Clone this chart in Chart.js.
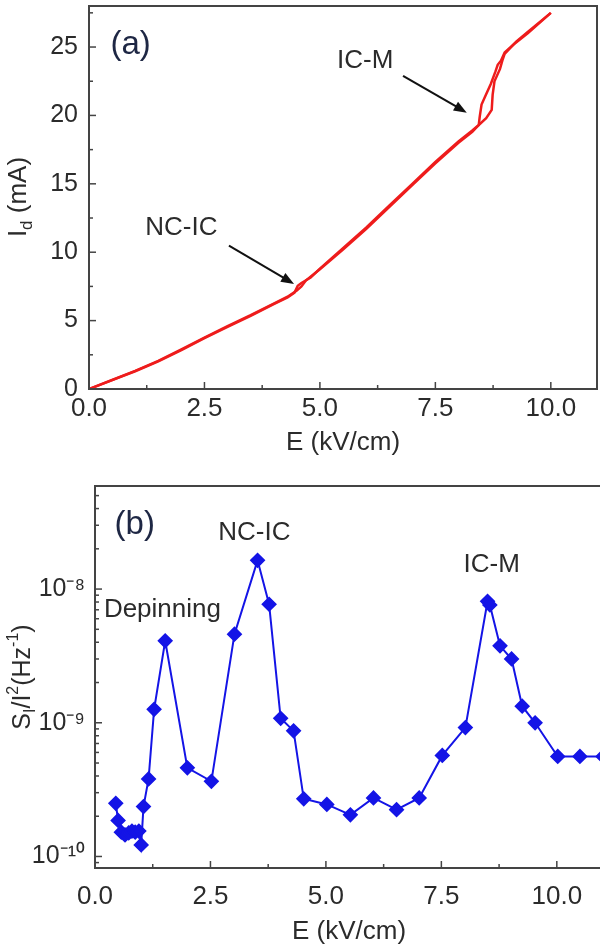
<!DOCTYPE html>
<html><head><meta charset="utf-8">
<script src="https://cdn.jsdelivr.net/npm/chart.js@4.4.1/dist/chart.umd.min.js"></script>
<style>
html,body{margin:0;padding:0;background:#fff;overflow:hidden;width:600px;height:946px;position:relative;}
#wa{position:absolute;left:0;top:0;width:600px;height:470px;}
#wb{position:absolute;left:0;top:470px;width:620px;height:480px;}
</style></head><body>
<div id="wa"><canvas id="ca" width="600" height="470"></canvas></div>
<div id="wb"><canvas id="cb" width="620" height="480"></canvas></div>
<script>
// ---------- Panel (a): I-V sweep ----------
const aFieldUp   = [0,0.5,1.0,1.5,2.0,2.5,3.0,3.5,4.0,4.3,4.45,4.52,4.6,4.8,5.0,5.5,6.0,6.5,7.0,7.5,8.0,8.3,8.44,8.6,8.72,8.74,8.78,8.9,8.95,9.0,9.25,9.5,10.0];
const aCurrentUp = [0,0.65,1.3,2.02,2.85,3.72,4.55,5.35,6.2,6.7,7.05,7.55,7.75,8.15,8.8,10.3,11.8,13.4,15.0,16.6,18.1,18.9,19.3,19.8,20.4,21.5,22.5,23.4,24.0,24.5,25.4,26.1,27.5];
const aFieldDown   = [10.0,9.5,9.2,9.0,8.92,8.85,8.8,8.7,8.58,8.5,8.46,8.44,8.3,8.0,7.5,7.0,6.5,6.0,5.5,5.0,4.7,4.6,4.5,4.3,4.0,3.5,3.0,2.5,2.0,1.5,1.0,0.5,0];
const aCurrentDown = [27.5,26.0,25.2,24.6,24.0,23.7,23.2,22.3,21.4,20.8,19.9,19.3,18.8,18.0,16.5,14.9,13.3,11.7,10.2,8.75,7.95,7.5,7.2,6.75,6.25,5.4,4.6,3.75,2.9,2.05,1.32,0.66,0];
const aXTicks = [0,2.5,5,7.5,10];
const aYTicks = [0,5,10,15,20,25];
const aXMinorStep = 1.25, aYMinorStep = 2.5;
// annotations in data coordinates
const aLabels = [
  {text:'(a)', x:0.9, y:25.15, big:true},
  {text:'NC-IC', x:2.0, y:11.8},
  {text:'IC-M', x:5.98, y:24.0}
];
const aArrows = [
  {from:[3.03,10.48], to:[4.44,7.68]},
  {from:[6.8,22.9], to:[8.18,20.2]}
];

// ---------- Panel (b): normalized noise ----------
const bField = [0.45,0.5,0.57,0.65,0.73,0.8,0.87,0.95,1.0,1.05,1.16,1.28,1.52,2.0,2.52,3.02,3.52,3.77,4.02,4.3,4.52,5.02,5.53,6.03,6.53,7.02,7.52,8.02,8.5,8.55,8.77,9.02,9.25,9.53,10.02,10.5,11.0];
const bNoise = [2.5e-10,1.86e-10,1.52e-10,1.45e-10,1.5e-10,1.55e-10,1.52e-10,1.55e-10,1.22e-10,2.36e-10,3.8e-10,1.26e-9,4.1e-9,4.6e-10,3.65e-10,4.6e-9,1.64e-8,7.7e-9,1.08e-9,8.7e-10,2.7e-10,2.45e-10,2.05e-10,2.74e-10,2.24e-10,2.74e-10,5.7e-10,9.2e-10,8.1e-9,7.6e-9,3.76e-9,3.0e-9,1.33e-9,1.0e-9,5.6e-10,5.6e-10,5.6e-10];
const bXTicks = [0,2.5,5,7.5,10];
const bYTicks = [1e-10,1e-9,1e-8];
const bYTickLabels = ['10\u207B\u00B9\u2070','10\u207B\u2079','10\u207B\u2078'];
const bLabels = [
  {text:'(b)', x:0.86, y:3.0e-8, big:true},
  {text:'NC-IC', x:3.45, y:2.63e-8},
  {text:'IC-M', x:8.59, y:1.51e-8},
  {text:'Depinning', x:1.46, y:7.0e-9}
];

const FONT = '"Liberation Sans", Arial, sans-serif';
const AXIS = '#444444';
const TXT = '#2b2b2b';

function pts(xs, ys){ return xs.map((x,i)=>({x:x, y:ys[i]})); }

function drawRich(ctx, cx, cy, parts){
  ctx.save();
  ctx.translate(cx, cy);
  ctx.rotate(-Math.PI/2);
  let w = 0;
  parts.forEach(p=>{ ctx.font = p.size+'px '+FONT; w += ctx.measureText(p.t).width; });
  let x = -w/2;
  ctx.fillStyle = TXT;
  ctx.textBaseline = 'middle';
  ctx.textAlign = 'left';
  parts.forEach(p=>{ ctx.font = p.size+'px '+FONT; ctx.fillText(p.t, x, p.dy||0); x += ctx.measureText(p.t).width; });
  ctx.restore();
}

function drawArrow(ctx, x1,y1,x2,y2){
  const ang = Math.atan2(y2-y1, x2-x1);
  const L = 13, W = 5;
  ctx.save();
  ctx.strokeStyle = '#111'; ctx.fillStyle = '#111'; ctx.lineWidth = 2;
  ctx.beginPath(); ctx.moveTo(x1,y1); ctx.lineTo(x2 - Math.cos(ang)*L*0.8, y2 - Math.sin(ang)*L*0.8); ctx.stroke();
  ctx.beginPath();
  ctx.moveTo(x2,y2);
  ctx.lineTo(x2 - Math.cos(ang)*L + Math.sin(ang)*W, y2 - Math.sin(ang)*L - Math.cos(ang)*W);
  ctx.lineTo(x2 - Math.cos(ang)*L - Math.sin(ang)*W, y2 - Math.sin(ang)*L + Math.cos(ang)*W);
  ctx.closePath(); ctx.fill();
  ctx.restore();
}

function linValues(min, max, step){ const r=[]; for(let v=min; v<=max+1e-9; v+=step) r.push(+v.toFixed(6)); return r; }
function logValues(min, max){ const r=[]; for(let e=Math.floor(Math.log10(min)); e<=Math.ceil(Math.log10(max)); e++){ for(let m=1;m<=9;m++){ const v=m*Math.pow(10,e); if(v>=min && v<=max) r.push({v:v, major:m===1}); } } return r; }

function tickMarks(chart, xMinor, xMajor, yList){
  const ctx = chart.ctx, a = chart.chartArea, xs = chart.scales.x, ys = chart.scales.y;
  ctx.save();
  ctx.strokeStyle = AXIS; ctx.lineWidth = 1.5;
  xMinor.forEach(v=>{
    if (v <= xs.min || v >= xs.max) return;
    const px = xs.getPixelForValue(v);
    const major = xMajor.some(t=>Math.abs(t-v)<1e-6);
    const len = major ? 7 : 4;
    ctx.beginPath(); ctx.moveTo(px, a.bottom); ctx.lineTo(px, a.bottom - len); ctx.stroke();
  });
  yList.forEach(o=>{
    const py = ys.getPixelForValue(o.v);
    if (py < a.top + 1 || py > a.bottom - 1) return;
    const len = o.major ? 7 : 4;
    ctx.beginPath(); ctx.moveTo(a.left, py); ctx.lineTo(a.left + len, py); ctx.stroke();
  });
  ctx.restore();
}

function frame(chart){
  const ctx = chart.ctx, a = chart.chartArea;
  ctx.save(); ctx.strokeStyle = AXIS; ctx.lineWidth = 2;
  ctx.strokeRect(a.left, a.top, a.right - a.left, a.bottom - a.top);
  ctx.restore();
}

function labels(chart, list){
  const ctx = chart.ctx, xs = chart.scales.x, ys = chart.scales.y;
  ctx.save();
  ctx.textAlign = 'center'; ctx.textBaseline = 'middle';
  list.forEach(l=>{
    ctx.font = (l.big ? '33px ' : '26px ') + FONT;
    ctx.fillStyle = l.big ? '#1e2744' : TXT;
    ctx.fillText(l.text, xs.getPixelForValue(l.x), ys.getPixelForValue(l.y));
  });
  ctx.restore();
}

function noPadX(s, h){ s.height = h; s.paddingLeft = 0; s.paddingRight = 0; s.paddingTop = 0; s.paddingBottom = 0; }
function noPadY(s, w){ s.width = w; s.paddingTop = 0; s.paddingBottom = 0; s.paddingLeft = 0; s.paddingRight = 0; }

const common = {
  responsive:false, animation:false, devicePixelRatio:1,
  plugins:{legend:{display:false}, tooltip:{enabled:false}}
};

// ---------- Chart (a) ----------
new Chart(document.getElementById('ca'), {
  type:'scatter',
  data:{ datasets:[
    {data:pts(aFieldUp,aCurrentUp), showLine:true, borderColor:'#ee1c1c', borderWidth:2.5, pointRadius:0, tension:0},
    {data:pts(aFieldDown,aCurrentDown), showLine:true, borderColor:'#ee1c1c', borderWidth:2.5, pointRadius:0, tension:0}
  ]},
  options:Object.assign({}, common, {
    layout:{padding:{left:0, top:6, right:3, bottom:0}},
    scales:{
      x:{type:'linear', min:0, max:11,
        afterBuildTicks:s=>{ s.ticks = aXTicks.map(v=>({value:v})); },
        afterFit:s=>noPadX(s, 81),
        grid:{display:false, drawTicks:false},
        border:{display:true, color:AXIS, width:2},
        ticks:{autoSkip:false, maxRotation:0, padding:4, color:TXT, font:{family:FONT, size:26}, callback:v=>v.toFixed(1)},
        title:{display:true, text:'E (kV/cm)', color:TXT, font:{family:FONT, size:26}, padding:{top:0, bottom:12}}
      },
      y:{type:'linear', min:0, max:28,
        afterBuildTicks:s=>{ s.ticks = aYTicks.map(v=>({value:v})); },
        afterFit:s=>noPadY(s, 89),
        grid:{display:false, drawTicks:false},
        border:{display:true, color:AXIS, width:2},
        ticks:{autoSkip:false, padding:11, color:TXT, font:{family:FONT, size:25}, callback:v=>String(v)}
      }
    }
  }),
  plugins:[{
    id:'decorA',
    afterDraw(chart){
      frame(chart);
      tickMarks(chart, linValues(0,11,aXMinorStep), aXTicks, linValues(0,28,aYMinorStep).map(v=>({v:v, major:aYTicks.includes(v)})));
      labels(chart, aLabels);
      const xs = chart.scales.x, ys = chart.scales.y;
      aArrows.forEach(ar=>drawArrow(chart.ctx, xs.getPixelForValue(ar.from[0]), ys.getPixelForValue(ar.from[1]), xs.getPixelForValue(ar.to[0]), ys.getPixelForValue(ar.to[1])));
      drawRich(chart.ctx, 19, 197, [
        {t:'I', size:26}, {t:'d', size:17, dy:8}, {t:' (mA)', size:26}
      ]);
    }
  }]
});

// ---------- Chart (b) ----------
new Chart(document.getElementById('cb'), {
  type:'scatter',
  data:{ datasets:[
    {data:pts(bField,bNoise), showLine:true, borderColor:'#1414e6', backgroundColor:'#1414e6', borderWidth:2,
     pointStyle:'rectRot', pointRadius:6.8, pointBorderWidth:1.5, tension:0}
  ]},
  options:Object.assign({}, common, {
    layout:{padding:{left:0, top:16, right:17, bottom:0}},
    scales:{
      x:{type:'linear', min:0, max:11,
        afterBuildTicks:s=>{ s.ticks = bXTicks.map(v=>({value:v})); },
        afterFit:s=>noPadX(s, 82),
        grid:{display:false, drawTicks:false},
        border:{display:true, color:AXIS, width:2},
        ticks:{autoSkip:false, maxRotation:0, padding:13, color:TXT, font:{family:FONT, size:26}, callback:v=>v.toFixed(1)},
        title:{display:true, text:'E (kV/cm)', color:TXT, font:{family:FONT, size:26}, padding:{top:0, bottom:3}}
      },
      y:{type:'logarithmic', min:8.2e-11, max:5.9e-8,
        afterBuildTicks:s=>{ s.ticks = bYTicks.map(v=>({value:v})); },
        afterFit:s=>noPadY(s, 95),
        grid:{display:false, drawTicks:false},
        border:{display:true, color:AXIS, width:2},
        ticks:{autoSkip:false, padding:10, color:TXT, font:{family:FONT, size:25},
          callback:(v)=>{ const i = bYTicks.findIndex(t=>Math.abs(t-v)/t<1e-6); return i>=0 ? bYTickLabels[i] : ''; }}
      }
    }
  }),
  plugins:[{
    id:'decorB',
    afterDraw(chart){
      frame(chart);
      tickMarks(chart, linValues(0,11,1.25), bXTicks, logValues(8.2e-11,5.9e-8));
      labels(chart, bLabels);
      drawRich(chart.ctx, 23, 207, [
        {t:'S', size:25}, {t:'I', size:16, dy:8}, {t:'/I', size:25}, {t:'2', size:16, dy:-9},
        {t:'(Hz', size:25}, {t:'-1', size:16, dy:-9}, {t:')', size:25}
      ]);
    }
  }]
});
</script>
</body></html>
